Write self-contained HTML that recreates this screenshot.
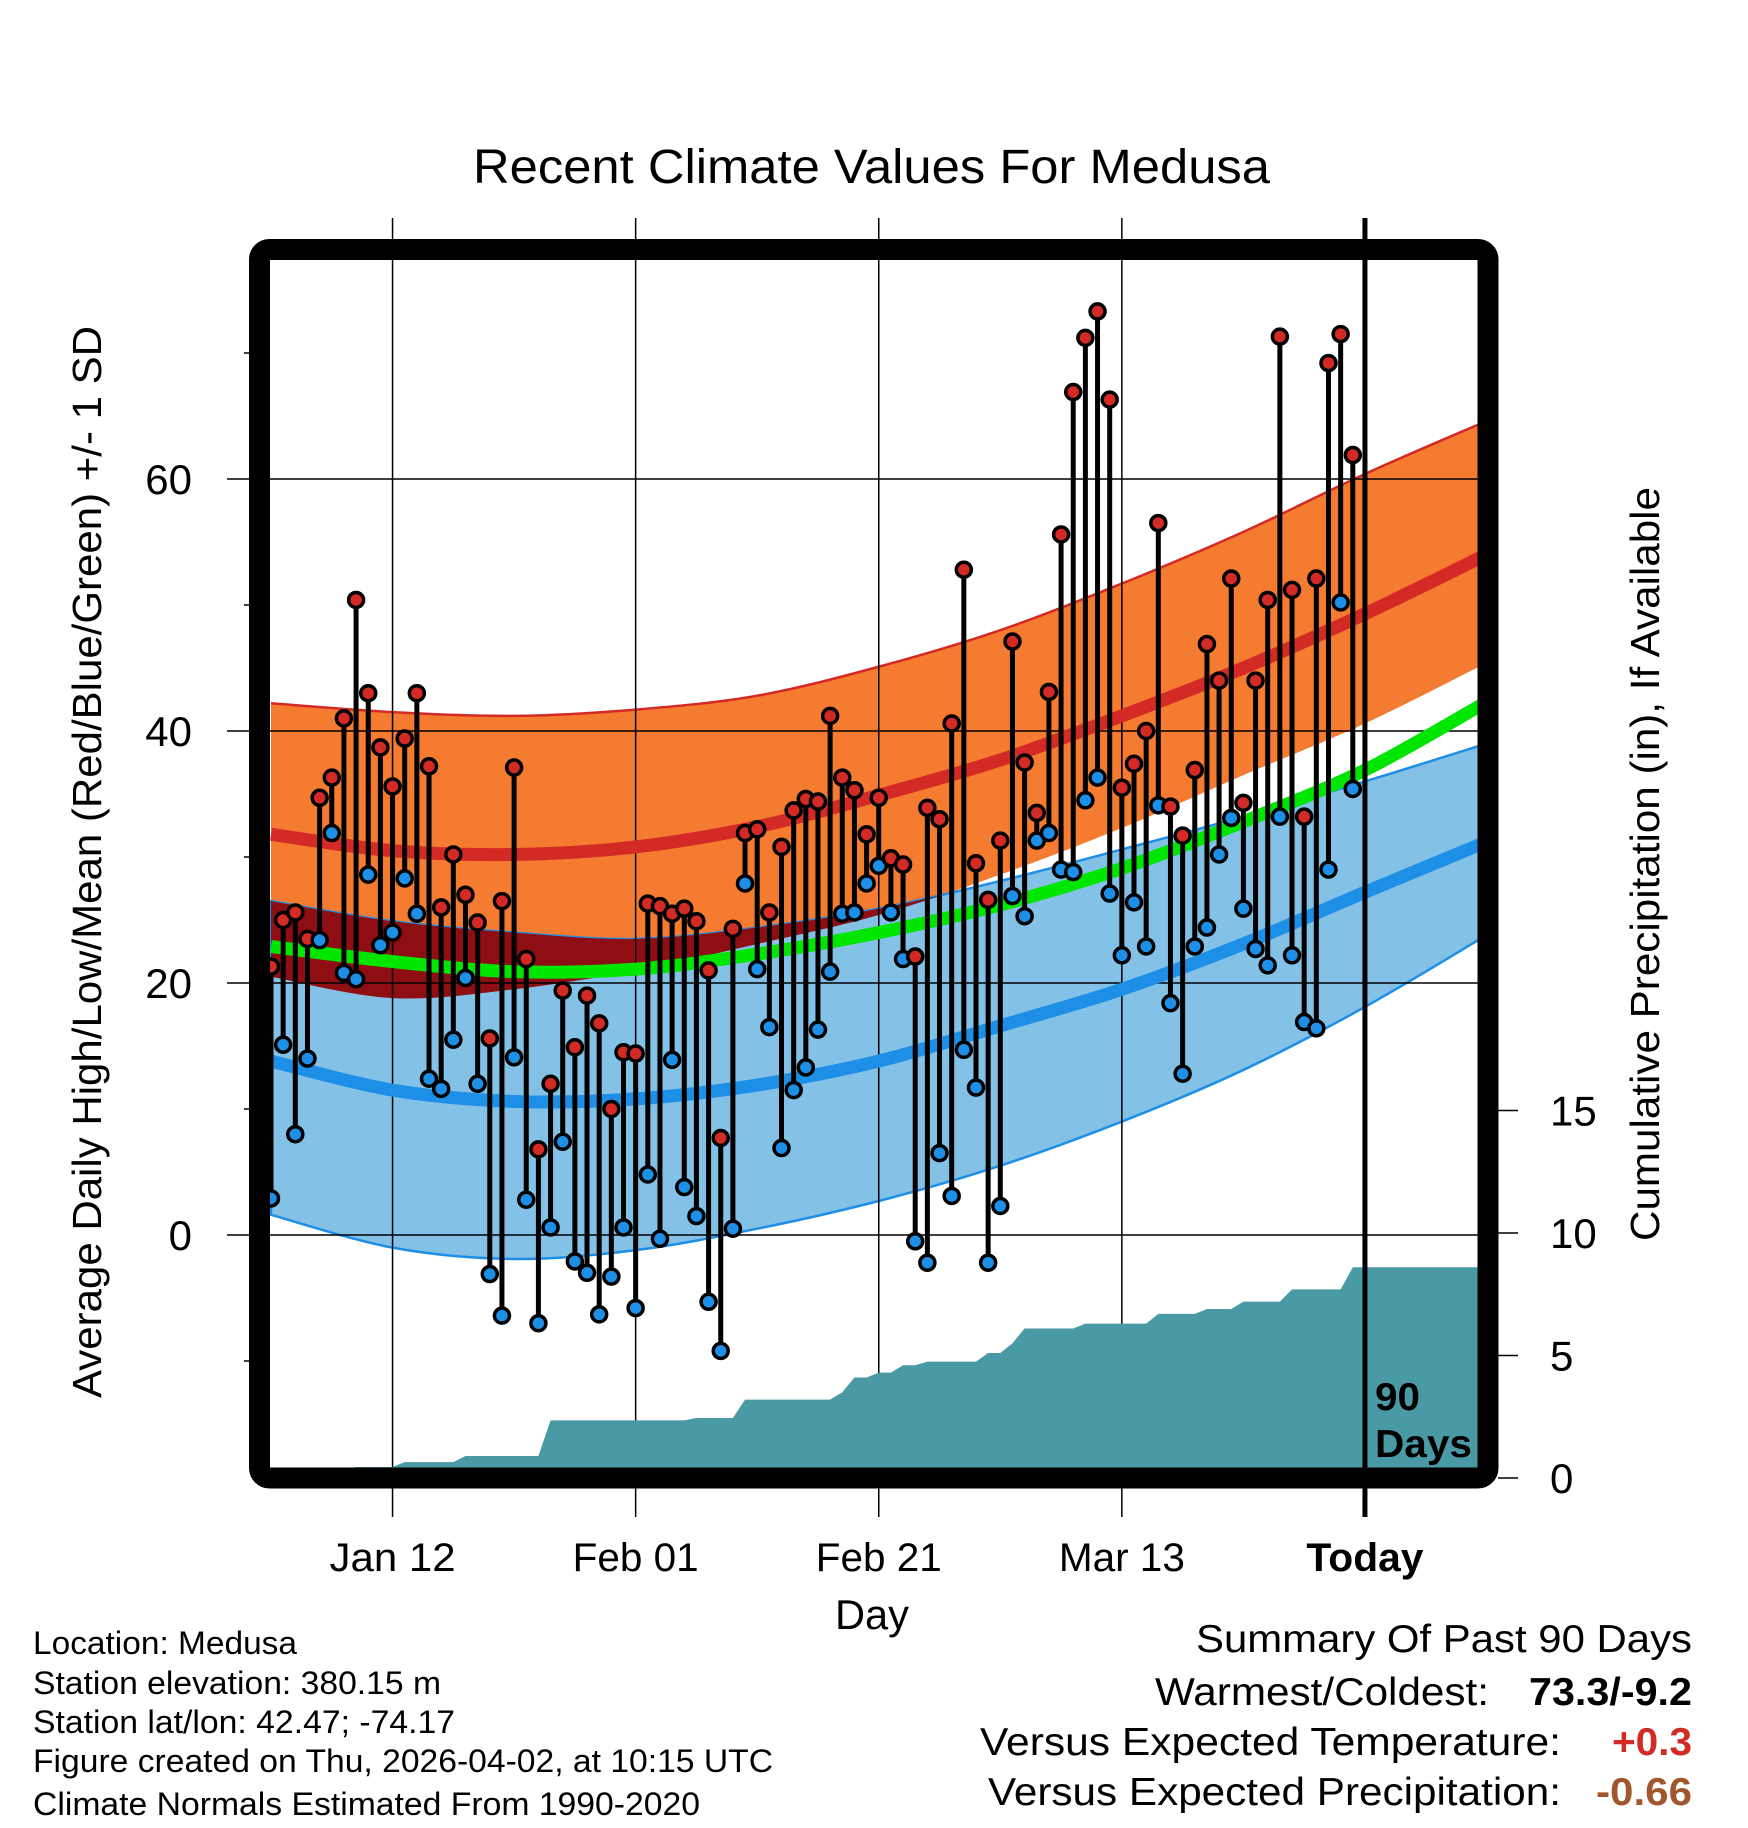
<!DOCTYPE html>
<html><head><meta charset="utf-8"><style>
html,body{margin:0;padding:0;background:#fff;}
svg{display:block;font-family:"Liberation Sans",Arial,sans-serif;}
</style></head><body>
<svg id="chart" width="1748" height="1828" viewBox="0 0 1748 1828" xmlns="http://www.w3.org/2000/svg">
<defs><clipPath id="plotclip"><rect x="270" y="260" width="1208" height="1208"/></clipPath></defs>
<g id="bands" clip-path="url(#plotclip)"></g>
<g id="grid"></g>
<g id="means" clip-path="url(#plotclip)"></g>
<g id="precip" clip-path="url(#plotclip)"></g>
<g id="marks" clip-path="url(#plotclip)"></g>
<rect x="259.5" y="249.5" width="1228.5" height="1228.5" rx="10" fill="none" stroke="#000" stroke-width="21"/>
<g id="axes"></g>
<text x="473" y="183" font-size="48" textLength="797" lengthAdjust="spacingAndGlyphs">Recent Climate Values For Medusa</text>
<text transform="translate(101,1398) rotate(-90)" font-size="41" textLength="1072" lengthAdjust="spacingAndGlyphs">Average Daily High/Low/Mean (Red/Blue/Green) +/- 1 SD</text>
<text transform="translate(1659,1241) rotate(-90)" font-size="41" textLength="754" lengthAdjust="spacingAndGlyphs">Cumulative Precipitation (in), If Available</text>
<text x="835" y="1629" font-size="42" textLength="74" lengthAdjust="spacingAndGlyphs">Day</text>
<text x="1375" y="1410" font-size="39" font-weight="bold" textLength="45" lengthAdjust="spacingAndGlyphs">90</text>
<text x="1375" y="1457" font-size="39" font-weight="bold" textLength="97" lengthAdjust="spacingAndGlyphs">Days</text>
<g font-size="32">
<text x="33" y="1654" textLength="264" lengthAdjust="spacingAndGlyphs">Location: Medusa</text>
<text x="33" y="1694" textLength="408" lengthAdjust="spacingAndGlyphs">Station elevation: 380.15 m</text>
<text x="33" y="1733" textLength="422" lengthAdjust="spacingAndGlyphs">Station lat/lon: 42.47; -74.17</text>
<text x="33" y="1772" textLength="740" lengthAdjust="spacingAndGlyphs">Figure created on Thu, 2026-04-02, at 10:15 UTC</text>
<text x="33" y="1815" textLength="667" lengthAdjust="spacingAndGlyphs">Climate Normals Estimated From 1990-2020</text>
</g>
<g font-size="39">
<text x="1196" y="1652" textLength="496" lengthAdjust="spacingAndGlyphs">Summary Of Past 90 Days</text>
<text x="1155" y="1705" textLength="334" lengthAdjust="spacingAndGlyphs">Warmest/Coldest:</text>
<text x="1529" y="1705" font-weight="bold" textLength="163" lengthAdjust="spacingAndGlyphs">73.3/-9.2</text>
<text x="980" y="1755" textLength="581" lengthAdjust="spacingAndGlyphs">Versus Expected Temperature:</text>
<text x="1612" y="1755" font-weight="bold" fill="#d42a25" textLength="80" lengthAdjust="spacingAndGlyphs">+0.3</text>
<text x="988" y="1805" textLength="573" lengthAdjust="spacingAndGlyphs">Versus Expected Precipitation:</text>
<text x="1596" y="1805" font-weight="bold" fill="#a0572e" textLength="96" lengthAdjust="spacingAndGlyphs">-0.66</text>
</g>
</svg>
<script>
const highs=[21.3,25,25.6,23.5,34.7,36.3,41,50.4,43,38.7,35.6,39.4,43,37.2,26,30.2,27,24.8,15.6,26.5,37.1,21.9,6.8,12,19.4,14.9,19,16.8,10,14.5,14.4,26.3,26.1,25.5,25.9,24.9,21,7.7,24.3,31.9,32.2,25.6,30.8,33.7,34.6,34.4,41.2,36.3,35.3,31.8,34.7,29.9,29.4,22.1,33.9,33,40.6,52.8,29.5,26.6,31.3,47.1,37.5,33.5,43.1,55.6,66.9,71.2,73.3,66.3,35.5,37.4,40,56.5,34,31.7,36.9,46.9,44,52.1,34.3,44,50.4,71.3,51.2,33.2,52.1,69.2,71.5,61.9];
const lows=[2.9,15.1,8,14,23.4,31.9,20.8,20.3,28.6,23,24,28.3,25.5,12.4,11.6,15.5,20.4,12,-3.1,-6.4,14.1,2.8,-7,0.6,7.4,-2.1,-3,-6.3,-3.3,0.6,-5.8,4.8,-0.3,13.9,3.8,1.5,-5.3,-9.2,0.5,27.9,21.1,16.5,6.9,11.5,13.3,16.3,20.9,25.5,25.6,27.9,29.3,25.6,21.9,-0.5,-2.2,6.5,3.1,14.7,11.7,-2.2,2.3,26.9,25.3,31.3,31.9,29,28.8,34.5,36.3,27.1,22.2,26.4,22.9,34.1,18.4,12.8,22.9,24.4,30.2,33.1,25.9,22.7,21.4,33.2,22.2,16.9,16.4,29,50.2,35.4];
const precipCum=[0,0,0,0,0,0,0.3,0.45,0.45,0.45,0.45,0.65,0.65,0.65,0.65,0.65,0.9,0.9,0.9,0.9,0.9,0.9,0.9,2.35,2.35,2.35,2.35,2.35,2.35,2.35,2.35,2.35,2.35,2.35,2.35,2.45,2.45,2.45,2.45,3.2,3.2,3.2,3.2,3.2,3.2,3.2,3.2,3.5,4.1,4.1,4.3,4.3,4.6,4.6,4.75,4.75,4.75,4.75,4.75,5.1,5.1,5.5,6.1,6.1,6.1,6.1,6.1,6.3,6.3,6.3,6.3,6.3,6.3,6.7,6.7,6.7,6.7,6.9,6.9,6.9,7.2,7.2,7.2,7.2,7.7,7.7,7.7,7.7,7.7,8.6];
const normDays=[0,10,20,30,40,50,60,70,80,90,100];
const highUpper=[42.2,41.5,41.2,41.7,42.8,45.1,48,51.7,55.8,60.4,64.6];
const highMean=[31.8,30.5,30.2,30.8,32.4,34.9,37.7,41.2,45,49.3,54];
const highLower=[20.5,18.8,19.5,21,23.1,25.4,28.6,32.3,36.5,40.6,45.4];
const lowUpper=[26.5,24.9,24,23.5,24.4,25.9,28.1,30.6,33.2,36,39];
const lowMean=[13.8,11.5,10.6,10.8,11.9,13.8,16.6,19.5,23.1,27.2,31.2];
const lowLower=[1.6,-1,-1.9,-1.2,0.5,2.7,5.5,9,13.1,18.1,23.8];
const avgMean=[22.9,21.7,20.9,21.1,22.3,24,26.2,29.1,32.8,36.9,42.3];
const yTicks=[0,20,40,60];
const yMinor=[-10,10,30,50,70];
const pTicks=[0,5,10,15];
const xTickDays=[10,30,50,70,90];
const xTickLabels=["Jan 12","Feb 01","Feb 21","Mar 13","Today"];

const NS="http://www.w3.org/2000/svg";
const X=i=>271+i*12.155;
const Y=v=>1235-12.6*v;
const P=v=>1478-24.5*v;
function el(tag,attrs,parent){const e=document.createElementNS(NS,tag);for(const k in attrs)e.setAttribute(k,attrs[k]);parent.appendChild(e);return e;}
function pts(vals){return normDays.map((d,i)=>[X(d),Y(vals[i])]);}
function smooth(p){let s="";for(let i=0;i<p.length-1;i++){const p0=p[i-1]||p[i],p1=p[i],p2=p[i+1],p3=p[i+2]||p2;
const c1=[p1[0]+(p2[0]-p0[0])/6,p1[1]+(p2[1]-p0[1])/6],c2=[p2[0]-(p3[0]-p1[0])/6,p2[1]-(p3[1]-p1[1])/6];
s+=(i===0?"M"+p1[0]+","+p1[1]:"")+" C"+c1[0]+","+c1[1]+" "+c2[0]+","+c2[1]+" "+p2[0]+","+p2[1];}return s;}
function bandPath(up,lo){const u=pts(up),l=pts(lo).reverse();return smooth(u)+" L"+l[0][0]+","+l[0][1]+smooth(l).replace(/^M[^ ]+/,"")+" Z";}

const bands=document.getElementById('bands');
const defs=document.querySelector('defs');
const cp=el('clipPath',{id:'redclip'},defs);
el('path',{d:bandPath(highUpper,highLower)},cp);
let b=el('path',{d:bandPath(highUpper,highLower),fill:'#f47b30'},bands);


b=el('path',{d:bandPath(lowUpper,lowLower),fill:'#84c1e7',stroke:'#1e8fe6','stroke-width':2.5},bands);


b=el('path',{d:bandPath(lowUpper,lowLower),fill:'#8e0e14','clip-path':'url(#redclip)'},bands);


b=el('path',{d:smooth(pts(highUpper)),fill:'none',stroke:'#d42a25','stroke-width':2.5},bands);



const grid=document.getElementById('grid');
yTicks.forEach(v=>{const g=el('line',{x1:227,x2:1478,y1:Y(v),y2:Y(v),stroke:'#000','stroke-width':1.5},grid);

});
xTickDays.forEach((d,k)=>{if(k===4)return;const g=el('line',{x1:X(d),x2:X(d),y1:218,y2:1517,stroke:'#000','stroke-width':1.5},grid);

});

const means=document.getElementById('means');
[[lowMean,'#1e8fe6','low-mean-line'],[avgMean,'#00e600','avg-mean-line'],[highMean,'#d42a25','high-mean-line']].forEach(([a,c,n])=>{
const m=el('path',{d:smooth(pts(a)),fill:'none',stroke:c,'stroke-width':13},means);

});

const pg=document.getElementById('precip');
let d="M"+270+","+1480+" L270,"+P(precipCum[0]);
precipCum.forEach((v,i)=>{d+=" L"+X(i)+","+P(v);});
d+=" L1480,"+P(precipCum[precipCum.length-1])+" L1480,1480 Z";
const pa=el('path',{d:d,fill:'#4a9aa5'},pg);


const tl=el('line',{x1:X(90),x2:X(90),y1:218,y2:1517,stroke:'#000','stroke-width':5},grid.parentNode);


grid.parentNode.insertBefore(tl,document.getElementById('marks'));

const marks=document.getElementById('marks');
highs.forEach((h,i)=>{const x=X(i);
const s=el('line',{x1:x,x2:x,y1:Y(h),y2:Y(lows[i]),stroke:'#000','stroke-width':5},marks);

});
highs.forEach((h,i)=>{const x=X(i);
const lo=el('circle',{cx:x,cy:Y(lows[i]),r:7.5,fill:'#1e8fe6',stroke:'#000','stroke-width':3.5},marks);


const hi=el('circle',{cx:x,cy:Y(h),r:7.5,fill:'#d42a25',stroke:'#000','stroke-width':3.5},marks);

});

const axes=document.getElementById('axes');
yTicks.forEach(v=>{const t=el('text',{x:192,y:Y(v)+15,'font-size':42,'text-anchor':'end'},axes);t.textContent=v;

});
yMinor.forEach(v=>{const t=el('line',{x1:244,x2:250,y1:Y(v),y2:Y(v),stroke:'#000','stroke-width':1.5},axes);

});
pTicks.forEach(v=>{const t=el('line',{x1:1498,x2:1518,y1:P(v),y2:P(v),stroke:'#000','stroke-width':1.5},axes);


const l=el('text',{x:1550,y:P(v)+15,'font-size':42},axes);l.textContent=v;

});
xTickDays.forEach((dd,k)=>{const t=el('text',{x:X(dd),y:1571,'font-size':40,'text-anchor':'middle','font-weight':k===4?'bold':'normal',textLength:k===4?117:126,lengthAdjust:'spacingAndGlyphs'},axes);
t.textContent=xTickLabels[k];

});
</script>
</body></html>
